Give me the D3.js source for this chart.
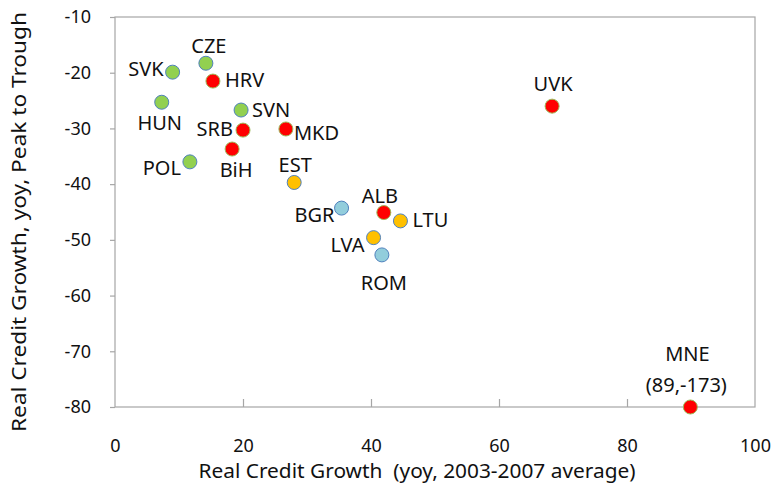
<!DOCTYPE html>
<html>
<head>
<meta charset="utf-8">
<script src="https://cdn.jsdelivr.net/npm/d3@7"></script>
<style>
  body { margin: 0; background: #fff; }
  text { font-family: "Noto Sans", sans-serif; fill: #111; }
</style>
</head>
<body>
<div id="chart"></div>
<script>
// countries, growth 2003-07 (x), peak-to-trough (y), group
const countries = ['SVK','CZE','HRV','HUN','SVN','SRB','MKD','BiH','POL','EST','BGR','ALB','LTU','LVA','ROM','UVK','MNE'];
const boomGrowth = [9, 14.2, 15.3, 7.3, 19.7, 20, 26.7, 18.3, 11.7, 28, 35.4, 42, 44.6, 40.4, 41.7, 68.3, 89.9];
const peakTrough = [-19.9, -18.3, -21.5, -25.3, -26.7, -30.3, -30.1, -33.7, -36, -39.7, -44.3, -45.1, -46.6, -49.6, -52.7, -26, -80];
const groups = ['cee','cee','see','cee','cee','see','see','see','cee','baltic','seeEu','see','baltic','baltic','seeEu','see','see'];

const xTicks = [0, 20, 40, 60, 80, 100];
const yTicks = [-10, -20, -30, -40, -50, -60, -70, -80];

const fillColor = {cee: '#92d050', see: '#ff0000', baltic: '#ffc000', seeEu: '#92cddc'};
const strokeColor = {cee: '#4f81bd', see: '#9bbb59', baltic: '#4f81bd', seeEu: '#4f81bd'};

// label layout: anchor and offset from the point centre (to the baseline)
const labelLayout = {
  SVK: ['end', -9, 4],    CZE: ['middle', 3, -10], HRV: ['start', 12, 6],
  HUN: ['middle', -2, 28], SVN: ['start', 11, 7],  SRB: ['end', -10, 6],
  MKD: ['start', 8, 11],  BiH: ['middle', 4, 28],  POL: ['end', -9, 13],
  EST: ['middle', 1, -10], BGR: ['end', -7, 14],   ALB: ['middle', -4, -10],
  LTU: ['start', 12, 6],  LVA: ['end', -9, 14],    ROM: ['middle', 2, 35],
  UVK: ['middle', 1, -15], MNE: ['middle', -3, -46]
};

const W = 774, H = 486;
const m = {left: 115, right: 19, top: 17, bottom: 79};

const svg = d3.select('#chart').append('svg').attr('width', W).attr('height', H);

const x = d3.scaleLinear().domain([0, 100]).range([m.left, W - m.right]);
const y = d3.scaleLinear().domain([-80, -10]).range([H - m.bottom, m.top]);

// plot frame
svg.append('rect')
  .attr('x', x(0)).attr('y', y(-10))
  .attr('width', x(100) - x(0)).attr('height', y(-80) - y(-10))
  .attr('fill', 'none').attr('stroke', '#a6a6a6').attr('stroke-width', 1.2);

const xAxis = svg.append('g').attr('transform', `translate(0,${y(-80)})`)
  .call(d3.axisBottom(x).tickValues(xTicks).tickSizeInner(-8).tickSizeOuter(0).tickPadding(32));
const yAxis = svg.append('g').attr('transform', `translate(${x(0)},0)`)
  .call(d3.axisLeft(y).tickValues(yTicks).tickSizeInner(5).tickSizeOuter(0).tickPadding(19)
    .tickFormat(d => d3.format('d')(d).replace('−', '-')));

[xAxis, yAxis].forEach(a => {
  a.select('.domain').remove();
  a.selectAll('line').attr('stroke', '#a6a6a6').attr('stroke-width', 1.2);
  a.selectAll('text').style('font-size', '18px').attr('fill', '#111');
});
xAxis.selectAll('.tick').filter(d => d === 0 || d === 100).select('line').remove();

// axis titles
svg.append('text')
  .attr('x', 417).attr('y', 478)
  .attr('text-anchor', 'middle').style('font-size', '20px').style('white-space', 'pre')
  .attr('textLength', 437).attr('lengthAdjust', 'spacingAndGlyphs')
  .text('Real Credit Growth  (yoy, 2003-2007 average)');
svg.append('text')
  .attr('transform', `translate(26,222) rotate(-90)`)
  .attr('text-anchor', 'middle').style('font-size', '19px')
  .attr('textLength', 420).attr('lengthAdjust', 'spacingAndGlyphs')
  .text('Real Credit Growth, yoy, Peak to Trough');

const data = countries.map((c, i) => ({c, x: boomGrowth[i], y: peakTrough[i], g: groups[i]}));

svg.append('g').selectAll('circle').data(data).join('circle')
  .attr('cx', d => x(d.x)).attr('cy', d => y(d.y)).attr('r', 7)
  .attr('fill', d => fillColor[d.g]).attr('stroke', d => strokeColor[d.g]).attr('stroke-width', 1);

svg.append('g').selectAll('text').data(data).join('text')
  .style('font-size', '20px')
  .attr('text-anchor', d => labelLayout[d.c][0])
  .attr('x', d => x(d.x) + labelLayout[d.c][1])
  .attr('y', d => y(d.y) + labelLayout[d.c][2])
  .text(d => d.c);

// MNE is off scale: note its true value under the name
svg.append('text')
  .attr('x', x(boomGrowth[16]) - 4).attr('y', y(-80) - 15)
  .attr('text-anchor', 'middle').style('font-size', '20px')
  .text('(89,-173)');
</script>
</body>
</html>
